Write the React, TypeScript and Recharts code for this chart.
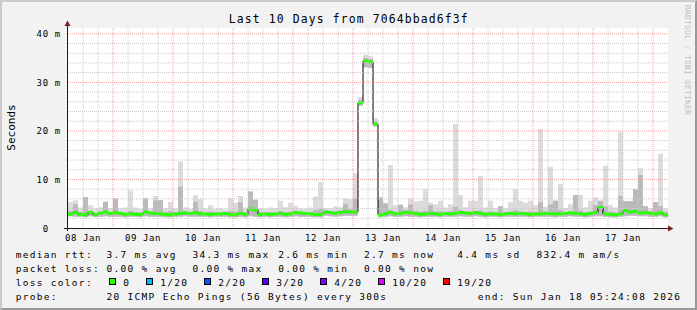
import React from 'react';
import { ComposedChart, Area, Line, Scatter, XAxis, YAxis, CartesianGrid } from 'recharts';

// one value every 2 hours, 10 days = 120 steps
const STEP_HOURS = 2;

const MEDIAN = [
  2.9, 3.2, 2.8, 2.7, 3.2, 2.7, 3.1, 3.3, 3.0, 3.2,
  3.0, 2.8, 2.9, 2.8, 2.8, 3.3, 3.1, 3.0, 2.9, 2.8,
  2.7, 2.9, 3.0, 3.1, 3.0, 3.2, 2.9, 2.9, 2.8, 2.9,
  2.9, 3.0, 2.8, 2.7, 3.0, 2.8, 3.9, 3.7, 2.8, 2.9,
  2.8, 2.9, 3.0, 2.8, 2.9, 3.2, 3.1, 3.0, 2.9, 2.8,
  2.8, 3.3, 3.2, 3.0, 3.2, 3.4, 3.3, 3.3, 25.8, 34.4,
  34.2, 21.4, 2.7, 2.9, 3.2, 2.9, 3.0, 3.3, 3.1, 3.0,
  2.8, 2.9, 3.0, 2.9, 2.8, 3.0, 2.9, 3.0, 3.2, 3.1,
  3.0, 3.2, 3.0, 2.8, 2.9, 2.9, 2.8, 2.9, 3.0, 2.9,
  3.0, 2.9, 2.8, 2.9, 2.9, 3.0, 2.9, 2.9, 2.9, 3.0,
  3.1, 3.0, 2.9, 2.8, 3.0, 3.2, 4.2, 2.9, 2.8, 2.7,
  2.9, 3.6, 3.3, 3.4, 3.1, 3.2, 3.0, 2.9, 3.1, 2.7,
];

const SMOKE_LO = [
  2.4, 2.3, 2.3, 2.2, 2.4, 2.3, 2.3, 2.4, 2.3, 2.3,
  2.3, 2.2, 2.3, 2.3, 2.2, 2.4, 2.3, 2.3, 2.3, 2.2,
  2.2, 2.3, 2.3, 2.4, 2.3, 2.3, 2.3, 2.3, 2.2, 2.3,
  2.3, 2.3, 2.2, 2.2, 2.3, 2.2, 2.4, 2.3, 2.2, 2.3,
  2.2, 2.3, 2.3, 2.2, 2.3, 2.4, 2.3, 2.3, 2.3, 2.2,
  2.2, 2.5, 2.4, 2.3, 2.4, 2.5, 2.5, 2.5, 25.2, 33.1,
  33.0, 20.9, 2.2, 2.3, 2.4, 2.3, 2.3, 2.4, 2.3, 2.3,
  2.2, 2.3, 2.3, 2.3, 2.2, 2.3, 2.3, 2.3, 2.4, 2.3,
  2.3, 2.4, 2.3, 2.2, 2.3, 2.3, 2.2, 2.3, 2.3, 2.3,
  2.3, 2.3, 2.2, 2.3, 2.3, 2.3, 2.3, 2.2, 2.3, 2.3,
  2.4, 2.3, 2.3, 2.2, 2.3, 2.4, 2.4, 2.3, 2.2, 2.2,
  2.3, 2.4, 2.5, 2.5, 2.4, 2.4, 2.3, 2.3, 2.4, 2.2,
];

const SMOKE_MID = [
  3.5, 4.9, 3.3, 6.4, 3.4, 3.2, 3.3, 5.4, 3.2, 6.1,
  3.3, 3.2, 3.5, 3.3, 3.2, 6.1, 3.3, 5.7, 5.7, 3.3,
  3.5, 3.2, 8.5, 3.4, 3.2, 5.4, 3.5, 3.2, 3.4, 3.2,
  3.2, 3.2, 3.5, 3.4, 5.3, 3.3, 7.5, 5.8, 3.3, 3.2,
  3.3, 3.2, 3.5, 3.3, 3.4, 3.4, 3.3, 3.2, 3.3, 3.7,
  3.9, 3.6, 3.5, 3.5, 3.6, 5.0, 3.8, 6.0, 26.4, 35.0,
  34.8, 22.0, 6.3, 5.1, 3.7, 3.4, 4.8, 3.5, 4.9, 3.5,
  3.4, 3.5, 4.7, 3.4, 3.5, 3.3, 3.5, 4.4, 3.7, 3.4,
  3.4, 3.5, 3.6, 3.3, 3.4, 3.2, 4.5, 3.3, 3.4, 3.7,
  3.4, 3.3, 3.4, 3.3, 5.3, 3.4, 4.9, 5.6, 3.7, 3.3,
  3.5, 6.8, 3.6, 3.3, 3.4, 4.7, 5.6, 4.5, 3.4, 3.2,
  6.6, 5.5, 5.5, 8.0, 10.9, 4.5, 3.5, 5.3, 4.5, 3.3,
];

const SMOKE_HI = [
  5.4, 5.7, 4.2, 6.4, 4.7, 4.0, 4.3, 5.4, 4.1, 6.1,
  4.0, 4.2, 7.7, 4.2, 3.9, 6.1, 4.0, 6.6, 5.7, 4.1,
  5.4, 4.0, 13.7, 4.3, 3.9, 6.8, 5.9, 4.0, 4.7, 3.9,
  4.0, 3.8, 6.2, 5.2, 6.6, 4.2, 7.5, 5.8, 4.1, 3.9,
  4.2, 4.0, 5.6, 4.3, 5.2, 4.6, 4.0, 3.9, 4.2, 6.5,
  9.5, 4.1, 4.0, 4.5, 4.3, 6.1, 5.9, 11.3, 27.0, 35.7,
  35.5, 22.6, 6.3, 5.1, 13.0, 4.7, 4.8, 4.3, 6.0, 5.5,
  5.6, 8.0, 5.2, 4.9, 5.6, 4.2, 4.9, 21.4, 6.8, 4.3,
  5.6, 5.6, 10.7, 4.2, 5.6, 4.1, 4.5, 4.0, 5.3, 8.0,
  5.6, 5.2, 5.6, 4.7, 20.4, 4.4, 12.6, 5.6, 9.1, 4.1,
  4.9, 6.8, 6.8, 4.3, 5.6, 6.3, 5.6, 12.8, 4.7, 4.2,
  19.9, 5.5, 5.6, 8.0, 12.3, 4.5, 4.1, 5.3, 15.3, 4.0,
];

const DAY_LABELS = ['08 Jan', '09 Jan', '10 Jan', '11 Jan', '12 Jan', '13 Jan', '14 Jan', '15 Jan', '16 Jan', '17 Jan'];
const LABEL_HOURS = [6, 30, 54, 78, 102, 126, 150, 174, 198, 222];
const DAY_LINES = [18, 42, 66, 90, 114, 138, 162, 186, 210, 234];
const SIX_HOUR_LINES = [
  6, 12, 24, 30, 36, 48, 54, 60, 72, 78, 84, 96, 102, 108, 120, 126, 132,
  144, 150, 156, 168, 174, 180, 192, 198, 204, 216, 222, 228,
];
const Y_TICKS = [0, 10, 20, 30, 40];
const Y_MAJOR = [10, 20, 30, 40];
const Y_MINOR = [2, 4, 6, 8, 12, 14, 16, 18, 22, 24, 26, 28, 32, 34, 36, 38];

const LOSS_COLORS = [
  { label: '0', color: '#26ff00' },
  { label: '1/20', color: '#00b8ff' },
  { label: '2/20', color: '#0059ff' },
  { label: '3/20', color: '#5e00ff' },
  { label: '4/20', color: '#7e00ff' },
  { label: '10/20', color: '#dd00ff' },
  { label: '19/20', color: '#ff0000' },
];

const rows = MEDIAN.map((m, i) => ({
  t: i * STEP_HOURS,
  med: m,
  lo: SMOKE_LO[i],
  mid: SMOKE_MID[i],
  hi: SMOKE_HI[i],
}));
// closing row so the last step is drawn to the end
const stepRows = [...rows, { ...rows[rows.length - 1], t: rows.length * STEP_HOURS }];

const MONO = '"DejaVu Sans Mono", monospace';
const W = 697;
const H = 310;
const SEG_PX = 5; // 600px plot / 120 steps

const YTick = (p: any) => {
  const v = p.payload.value;
  const label = v === 0 ? '0  ' : `${v} m`;
  return (
    <text x={59.7} y={p.y + 3.5} textAnchor="end" fontFamily={MONO} fontSize={9}
      letterSpacing={0.6} fill="#000" style={{ whiteSpace: 'pre' }}>{label}</text>
  );
};

const XTick = (p: any) => {
  const idx = LABEL_HOURS.indexOf(p.payload.value);
  return (
    <text x={p.x} y={240.7} textAnchor="middle" fontFamily={MONO} fontSize={9}
      letterSpacing={0.6} fill="#000">{DAY_LABELS[idx]}</text>
  );
};

const GreenSeg = (p: any) => (
  <rect x={p.cx} y={p.cy - 1.5} width={SEG_PX} height={3} fill="#26ff00" />
);

const legendText = { fontFamily: MONO, fontSize: 9.5, letterSpacing: 1.3, fill: '#000' } as const;
const LEG_Y = [258.3, 272.2, 286.1, 300];
const BOX_X = [109, 146, 204, 262, 320, 378, 443];

export default function App() {
  return (
    <div style={{ position: 'absolute', left: 0, top: 0, width: W, height: H, background: '#f2f2f2' }}>
      <div style={{
        position: 'absolute', inset: 0, boxSizing: 'border-box',
        borderTop: '2px solid #cbcbcb', borderLeft: '2px solid #cbcbcb',
        borderBottom: '2px solid #999999', borderRight: '2px solid #999999',
      }} />
      <div style={{ position: 'absolute', left: 0.5, top: 0 }}>
        <ComposedChart width={W} height={H} data={stepRows}
          margin={{ top: 28, right: 30, left: 7, bottom: 52 }}>
          <CartesianGrid fill="#ffffff" horizontal={false} vertical={false} stroke="none" />
          <XAxis dataKey="t" type="number" domain={[0, 240]} ticks={LABEL_HOURS} height={30}
            axisLine={false} tickLine={false} tick={<XTick />} interval={0} />
          <YAxis type="number" domain={[0, 41.2]} ticks={Y_TICKS} width={60}
            axisLine={false} tickLine={false} tick={<YTick />} interval={0} />
          <Area dataKey={(d: any) => [d.lo, d.hi]} type="stepAfter" fill="#dcdcdc" fillOpacity={1}
            stroke="none" isAnimationActive={false} />
          <Area dataKey={(d: any) => [d.lo, d.mid]} type="stepAfter" fill="#bababa" fillOpacity={1}
            stroke="none" isAnimationActive={false} />
          <Line dataKey="med" type="stepAfter" stroke="#000" strokeWidth={1} dot={false}
            isAnimationActive={false} />
          <Scatter data={rows} dataKey="med" shape={<GreenSeg />} isAnimationActive={false} />
          <CartesianGrid stroke="#c8c8c8" strokeDasharray="1 1" horizontalValues={Y_MINOR}
            verticalValues={SIX_HOUR_LINES} zIndex={700} />
          <CartesianGrid stroke="#f4a0a0" strokeDasharray="1 1" horizontalValues={Y_MAJOR}
            verticalValues={DAY_LINES} zIndex={701} />
        </ComposedChart>
      </div>
      <svg width={W} height={H} style={{ position: 'absolute', left: 0, top: 0, pointerEvents: 'none' }}>
        <text x={348.8} y={23} textAnchor="middle" fontFamily={MONO} fontSize={11.4}
          letterSpacing={1.14} fill="#000">Last 10 Days from 7064bbad6f3f</text>
        <text transform="translate(15,127.5) rotate(-90)" textAnchor="middle" fontFamily={MONO}
          fontSize={11} fill="#000">Seconds</text>
        <text transform="translate(685,5) rotate(90)" fontFamily={MONO} fontSize={7.8}
          letterSpacing={0.3} fill="#bdbdbd">RRDTOOL / TOBI OETIKER</text>

        <line x1={64} y1={228.5} x2={668} y2={228.5} stroke="#1a1a1a" />
        <line x1={67.5} y1={231} x2={67.5} y2={25} stroke="#1a1a1a" />
        <polygon points="668,225.5 673.5,228.5 668,231.5" fill="#7a1e1e" />
        <polygon points="64.5,26 67.5,20.5 70.5,26" fill="#7a1e1e" />

        <text x={15.7} y={LEG_Y[0]} {...legendText}>median rtt:</text>
        <text x={106.5} y={LEG_Y[0]} {...legendText}>3.7 ms avg</text>
        <text x={192.4} y={LEG_Y[0]} {...legendText}>34.3 ms max</text>
        <text x={278.2} y={LEG_Y[0]} {...legendText}>2.6 ms min</text>
        <text x={364} y={LEG_Y[0]} {...legendText}>2.7 ms now</text>
        <text x={457.3} y={LEG_Y[0]} {...legendText}>4.4 ms sd</text>
        <text x={536.4} y={LEG_Y[0]} {...legendText}>832.4 m am/s</text>

        <text x={15.7} y={LEG_Y[1]} {...legendText}>packet loss:</text>
        <text x={106.5} y={LEG_Y[1]} {...legendText}>0.00 % avg</text>
        <text x={192.4} y={LEG_Y[1]} {...legendText}>0.00 % max</text>
        <text x={278.2} y={LEG_Y[1]} {...legendText}>0.00 % min</text>
        <text x={364} y={LEG_Y[1]} {...legendText}>0.00 % now</text>

        <text x={15.7} y={LEG_Y[2]} {...legendText}>loss color:</text>
        {LOSS_COLORS.map((c, i) => (
          <g key={c.label}>
            <rect x={BOX_X[i] + 0.5} y={LEG_Y[2] - 7.6} width={6} height={6} fill={c.color}
              stroke="#000" strokeWidth={1} />
            <text x={BOX_X[i] + 14.3} y={LEG_Y[2]} {...legendText}>{c.label}</text>
          </g>
        ))}

        <text x={15.7} y={LEG_Y[3]} {...legendText}>probe:</text>
        <text x={106.5} y={LEG_Y[3]} {...legendText}>20 ICMP Echo Pings (56 Bytes) every 300s</text>
        <text x={477.7} y={LEG_Y[3]} {...legendText}>end: Sun Jan 18 05:24:08 2026</text>
      </svg>
    </div>
  );
}
